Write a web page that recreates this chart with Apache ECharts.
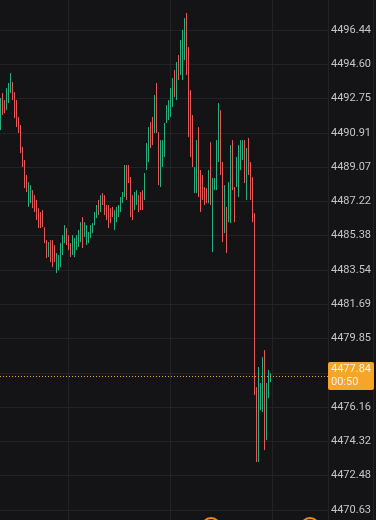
<!DOCTYPE html>
<html>
<head>
<meta charset="utf-8">
<style>
  html, body { margin: 0; padding: 0; background: #141416; }
  #myChart { width: 376px; height: 520px; }
</style>
<script src="https://cdn.jsdelivr.net/npm/echarts@6/dist/echarts.min.js"></script>
</head>
<body>
<div id="myChart"></div>
<script>
// price values, one candle per 2px
const opens = [
  4491.25, 4492.85, 4492.55, 4492.30, 4492.70, 4493.25, 4493.50, 4492.90, 4492.45, 4491.60,
  4491.15, 4489.95, 4489.25, 4488.45, 4487.10, 4487.30, 4487.70, 4487.40, 4487.10, 4486.70,
  4486.45, 4486.55, 4485.65, 4484.95, 4484.40, 4484.95, 4484.90, 4484.70, 4483.55, 4483.70,
  4483.90, 4484.50, 4485.15, 4485.60, 4485.25, 4484.85, 4484.50, 4484.40, 4484.75, 4484.95,
  4485.20, 4486.20, 4485.45, 4485.05, 4485.10, 4485.40, 4485.60, 4486.05, 4486.45, 4487.15,
  4486.80, 4487.55, 4487.40, 4486.90, 4486.85, 4486.70, 4486.80, 4485.85, 4486.25, 4486.50,
  4486.80, 4487.25, 4487.65, 4488.95, 4489.00, 4488.30, 4487.35, 4486.90, 4487.15, 4487.40,
  4487.55, 4487.65, 4487.45, 4489.10, 4489.55, 4491.30, 4491.55, 4491.10, 4493.30, 4490.75,
  4488.25, 4489.25, 4489.80, 4491.55, 4491.75, 4491.95, 4492.50, 4494.10, 4492.90, 4494.90,
  4494.20, 4494.00, 4495.05, 4497.10, 4495.25, 4492.95, 4491.60, 4487.85, 4487.90, 4490.95,
  4488.70, 4488.45, 4487.85, 4487.80, 4487.35, 4490.15, 4484.80, 4487.95, 4488.05, 4489.60,
  4491.90, 4489.05, 4485.75, 4486.70, 4486.30, 4486.35, 4490.30, 4487.80, 4488.20, 4487.70,
  4489.10, 4489.60, 4490.30, 4487.55, 4490.40, 4489.15, 4488.30, 4486.40, 4477.05, 4473.50,
  4476.20, 4476.15, 4478.95, 4474.65, 4476.85, 4477.60
];
const closes = [
  4492.60, 4492.05, 4492.10, 4493.15, 4493.40, 4493.95, 4492.85, 4491.90, 4491.40, 4491.05,
  4490.00, 4489.25, 4488.15, 4487.90, 4488.05, 4487.95, 4487.05, 4486.80, 4486.40, 4485.95,
  4486.00, 4486.05, 4485.15, 4484.35, 4484.85, 4484.15, 4483.90, 4484.10, 4484.25, 4484.15,
  4484.80, 4485.25, 4485.80, 4485.05, 4484.80, 4484.40, 4485.25, 4485.10, 4485.25, 4485.50,
  4485.95, 4484.95, 4485.95, 4485.80, 4485.45, 4485.80, 4485.95, 4486.55, 4486.90, 4486.60,
  4487.40, 4487.15, 4486.65, 4486.40, 4485.95, 4486.20, 4486.50, 4486.60, 4486.80, 4486.90,
  4487.30, 4487.60, 4488.95, 4487.50, 4488.40, 4486.60, 4486.40, 4487.55, 4487.70, 4486.80,
  4486.95, 4486.95, 4488.55, 4490.15, 4491.00, 4490.30, 4490.45, 4492.70, 4491.10, 4488.35,
  4490.25, 4490.35, 4491.25, 4492.25, 4492.50, 4493.10, 4493.65, 4493.00, 4494.50, 4493.95,
  4495.70, 4496.20, 4496.85, 4494.30, 4491.00, 4489.90, 4489.35, 4488.90, 4490.25, 4487.75,
  4486.90, 4487.50, 4487.20, 4487.30, 4488.70, 4487.30, 4488.20, 4488.35, 4490.30, 4492.25,
  4488.90, 4485.35, 4487.90, 4484.70, 4488.05, 4489.95, 4488.05, 4486.30, 4489.40, 4490.00,
  4490.35, 4490.40, 4488.45, 4489.85, 4488.85, 4487.50, 4486.35, 4477.10, 4473.50, 4478.05,
  4477.30, 4478.60, 4474.15, 4477.25, 4478.00, 4477.84
];
const lows = [
  4491.06, 4491.87, 4491.97, 4492.13, 4492.51, 4493.05, 4492.67, 4491.70, 4491.22, 4490.90,
  4489.82, 4489.07, 4487.94, 4487.73, 4486.93, 4487.13, 4486.86, 4486.65, 4486.22, 4485.79,
  4485.79, 4485.84, 4484.98, 4484.18, 4484.23, 4483.96, 4483.69, 4483.96, 4483.37, 4483.53,
  4483.69, 4484.34, 4484.98, 4484.88, 4484.61, 4484.23, 4484.34, 4484.23, 4484.61, 4484.77,
  4485.04, 4484.72, 4485.31, 4484.88, 4484.98, 4485.25, 4485.52, 4485.95, 4486.33, 4486.49,
  4486.65, 4487.03, 4486.49, 4486.22, 4485.79, 4486.06, 4486.38, 4485.68, 4486.11, 4486.38,
  4486.65, 4487.13, 4487.46, 4487.30, 4488.21, 4486.38, 4486.22, 4486.76, 4487.03, 4486.65,
  4486.76, 4486.76, 4487.30, 4488.91, 4489.34, 4490.09, 4490.25, 4490.90, 4490.90, 4488.10,
  4488.00, 4489.07, 4489.61, 4491.44, 4491.60, 4491.76, 4492.30, 4492.83, 4492.67, 4493.75,
  4494.02, 4493.75, 4494.82, 4494.02, 4490.68, 4489.61, 4489.07, 4487.67, 4487.67, 4487.46,
  4486.65, 4487.30, 4487.03, 4487.13, 4487.13, 4487.03, 4484.50, 4487.83, 4487.83, 4489.34,
  4488.64, 4485.04, 4485.52, 4484.45, 4486.11, 4486.06, 4487.83, 4486.11, 4488.00, 4487.46,
  4488.91, 4489.45, 4488.21, 4487.30, 4488.64, 4487.30, 4486.11, 4476.81, 4473.21, 4473.21,
  4476.00, 4475.90, 4473.85, 4474.39, 4476.65, 4477.51
];
const highs = [
  4492.78, 4493.05, 4492.67, 4493.32, 4493.59, 4494.12, 4493.64, 4493.10, 4492.67, 4491.76,
  4491.33, 4490.15, 4489.45, 4488.64, 4488.26, 4488.10, 4487.83, 4487.56, 4487.30, 4486.86,
  4486.65, 4486.76, 4485.84, 4485.14, 4485.04, 4485.14, 4485.14, 4484.88, 4484.45, 4484.34,
  4484.98, 4485.41, 4485.95, 4485.79, 4485.41, 4484.98, 4485.41, 4485.25, 4485.41, 4485.68,
  4486.11, 4486.38, 4486.11, 4485.95, 4485.58, 4485.95, 4486.06, 4486.65, 4487.03, 4487.30,
  4487.56, 4487.67, 4487.56, 4487.03, 4487.03, 4486.86, 4486.93, 4486.76, 4486.93, 4487.03,
  4487.46, 4487.73, 4489.18, 4489.18, 4489.18, 4488.53, 4487.56, 4487.73, 4487.83, 4487.56,
  4487.73, 4487.83, 4488.75, 4490.36, 4491.22, 4491.49, 4491.76, 4492.94, 4493.59, 4490.95,
  4490.52, 4490.52, 4491.44, 4492.40, 4492.67, 4493.32, 4493.86, 4494.29, 4494.72, 4495.09,
  4495.90, 4496.44, 4497.08, 4497.35, 4495.52, 4493.21, 4491.87, 4489.07, 4490.52, 4491.22,
  4488.91, 4488.64, 4488.00, 4487.94, 4488.91, 4490.41, 4488.48, 4488.48, 4490.52, 4492.51,
  4492.13, 4489.34, 4488.10, 4486.93, 4488.26, 4490.25, 4490.52, 4488.00, 4489.61, 4490.25,
  4490.52, 4490.52, 4490.52, 4490.09, 4490.63, 4489.34, 4488.53, 4486.60, 4477.24, 4478.32,
  4477.46, 4478.85, 4479.23, 4477.46, 4478.16, 4477.99
];

const lastPrice = 4477.84;
const countdown = "00:50";

// price scale: lowest visible label and step between labels
const priceBase = 4470.634;
const priceStep = 1.843286;

const slotCount = 164; // candle slots across the plot, incl. empty space on the right
const categories = Array.from({ length: slotCount }, (_, i) => String(i));

const upColor = "#26b07f";
const downColor = "#e5585a";
const gridColor = "#222327";

// axis runs on offsets from priceBase; min/max are whole steps so ticks hit the labels
const candles = opens.map((o, i) => [
  o - priceBase,
  closes[i] - priceBase,
  lows[i] - priceBase,
  highs[i] - priceBase,
]);

const stepPx = 480 / 14; // label 0 sits at y=510, label 14 at y=30

const chart = echarts.init(document.getElementById("myChart"));

chart.setOption({
  animation: false,
  backgroundColor: "#141416",
  grid: {
    left: 0,
    right: 48,
    top: 30 - stepPx,
    bottom: 10 - stepPx,
    outerBoundsMode: "none",
    containLabel: false,
  },
  xAxis: {
    type: "category",
    data: categories,
    boundaryGap: true,
    axisLine: { show: false },
    axisTick: { show: false },
    axisLabel: { show: false },
    splitLine: {
      show: true,
      interval: (index) => index >= 34 && (index - 34) % 51 === 0,
      lineStyle: { color: gridColor, width: 1 },
    },
  },
  yAxis: {
    type: "value",
    position: "right",
    min: -priceStep,
    max: 15 * priceStep,
    interval: priceStep,
    axisLine: { show: false },
    axisTick: { show: false },
    axisLabel: {
      showMinLabel: false,
      showMaxLabel: false,
      margin: 3,
      color: "#c6c6c8",
      fontSize: 11,
      fontFamily: "Roboto",
      formatter: (v) => (v + priceBase).toFixed(2),
    },
    splitLine: {
      show: true,
      lineStyle: { color: gridColor, width: 1 },
    },
  },
  series: [
    {
      type: "candlestick",
      data: candles,
      barWidth: 1,
      itemStyle: {
        color: upColor,
        color0: downColor,
        borderColor: upColor,
        borderColor0: downColor,
        borderWidth: 1,
      },
      markLine: {
        silent: true,
        symbol: ["none", "none"],
        lineStyle: { color: "#f2a63a", type: [1, 2], width: 1 },
        label: {
          show: true,
          position: "end",
          distance: 0,
          formatter: lastPrice.toFixed(2) + "\n" + countdown,
          backgroundColor: "#f4a52a",
          color: "#fbf3e6",
          fontSize: 11,
          fontFamily: "Roboto",
          lineHeight: 13,
          padding: [1, 3, 1, 3],
          borderRadius: 2,
        },
        data: [{ yAxis: lastPrice - priceBase }],
      },
    },
  ],
  graphic: [
    {
      type: "line",
      shape: { x1: 373.5, y1: 0, x2: 373.5, y2: 520 },
      style: { stroke: gridColor, lineWidth: 1 },
    },
    {
      type: "circle",
      shape: { cx: 211, cy: 527, r: 9 },
      style: { fill: "#2a1d10", stroke: "#e68a1f", lineWidth: 2 },
    },
    {
      type: "circle",
      shape: { cx: 211, cy: 527, r: 4 },
      style: { fill: "none", stroke: "#e68a1f", lineWidth: 1.5 },
    },
    {
      type: "circle",
      shape: { cx: 310, cy: 527, r: 9 },
      style: { fill: "#2a1d10", stroke: "#e68a1f", lineWidth: 2 },
    },
    {
      type: "circle",
      shape: { cx: 310, cy: 527, r: 4 },
      style: { fill: "none", stroke: "#e68a1f", lineWidth: 1.5 },
    },
  ],
});
</script>
</body>
</html>
